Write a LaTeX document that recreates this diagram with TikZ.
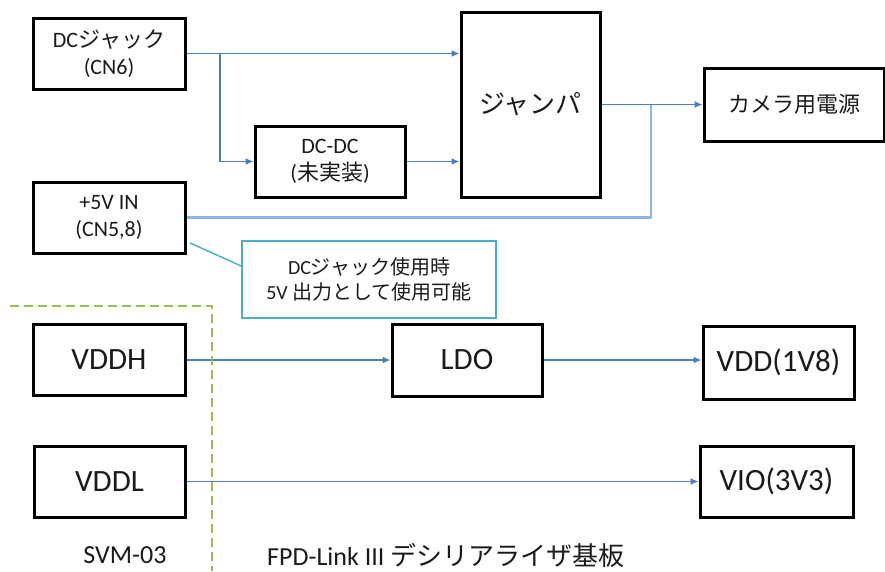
\documentclass[tikz,border=0pt]{standalone}
\usepackage{fontspec}
\setmainfont{Carlito}
\newfontfamily\jp{Noto Sans CJK JP}
\usetikzlibrary{arrows.meta}
\definecolor{arrblue}{HTML}{4A7EBB}
\definecolor{lightblue}{HTML}{8EB4E3}
\definecolor{noteteal}{HTML}{4BACC6}
\definecolor{dashgreen}{HTML}{9BBB59}
\definecolor{txt}{HTML}{1A1A1A}
\begin{document}
\begin{tikzpicture}[x=1pt,y=-1pt,
  box/.style={draw=black, line width=3pt, rectangle, inner sep=0pt, align=center, text=txt},
  arr/.style={draw=arrblue, line width=1.4pt, -{Latex[length=8pt,width=7pt]}},
  lite/.style={draw=lightblue, line width=2.4pt},
  f20/.style={font=\fontsize{20}{25}\selectfont},
  f22/.style={font=\fontsize{22}{27}\selectfont},
  f23/.style={font=\fontsize{23}{28}\selectfont},
  f26/.style={font=\fontsize{26}{31}\selectfont},
  f27/.style={font=\fontsize{27}{32}\selectfont},
  f31/.style={font=\fontsize{31}{37}\selectfont}
]
\useasboundingbox (0,0) rectangle (885,571);

\node[box, f22, minimum width=152pt, minimum height=71pt] (dcj) at (109,53.5) {DC{\jp ジャック}\\(CN6)};
\node[box, f22, minimum width=150pt, minimum height=71pt] (dcdc) at (330,161.5) {DC-DC\\({\jp 未実装})};
\node[box, f22, minimum width=152pt, minimum height=71pt] (p5v) at (109,217.5) {+5V IN\\(CN5,8)};
\node[box, f26, minimum width=139pt, minimum height=185pt] (jmp) at (530.5,104.5) {\jp ジャンパ};
\node[box, f22, minimum width=180pt, minimum height=73pt] (cam) at (794,104.5) {\jp カメラ用電源};
\node[draw=noteteal, line width=1.4pt, rectangle, inner sep=0pt, align=center, text=txt, f20, minimum width=254pt, minimum height=77pt] (note) at (369,279.5) {DC{\jp ジャック使用時}\\5V {\jp 出力として使用可能}};
\node[box, f31, minimum width=152pt, minimum height=71pt] (vddh) at (109,360) {VDDH};
\node[box, f31, minimum width=151pt, minimum height=71pt] (vddl) at (109.5,481.5) {VDDL};
\node[box, f31, minimum width=150pt, minimum height=72pt] (ldo) at (467,360) {LDO};
\node[box, f31, minimum width=151pt, minimum height=73pt] (vdd) at (778.5,362.5) {VDD(1V8)};
\node[box, f31, minimum width=153pt, minimum height=71pt] (vio) at (776.5,481.5) {VIO(3V3)};

\node[f26, text=txt, inner sep=0pt] (svm) at (125,555) {SVM-03};
\node[f26, text=txt, inner sep=0pt, anchor=west] (fpd) at (267,555) {FPD-Link III {\jp デシリアライザ基板}};

% connectors
\coordinate (br) at (220,0);
\coordinate (jn) at (651,0);
\coordinate (cs) at (190,243);

\draw[lite] (p5v.east) -| (jn |- jmp.east);
\draw[arr] (dcj.east) -- (dcj.east -| jmp.west);
\draw[arr] (dcj.east -| br) |- (dcdc.west);
\draw[arr] (dcdc.east) -- (dcdc.east -| jmp.west);
\draw[arr] (jmp.east) -- (cam.west);
\draw[draw=noteteal, line width=1.4pt] (cs) -- ([yshift=13.5pt]note.west);
\draw[arr] (vddh.east) -- (ldo.west);
\draw[arr] (ldo.east) -- (ldo.east -| vdd.west);
\draw[arr] (vddl.east) -- (vddl.east -| vio.west);

% board separator
\draw[dashgreen, line width=1.3pt, dash pattern=on 9pt off 5pt] (10,306) -- (212,306) -- (212,571);
\end{tikzpicture}
\end{document}
